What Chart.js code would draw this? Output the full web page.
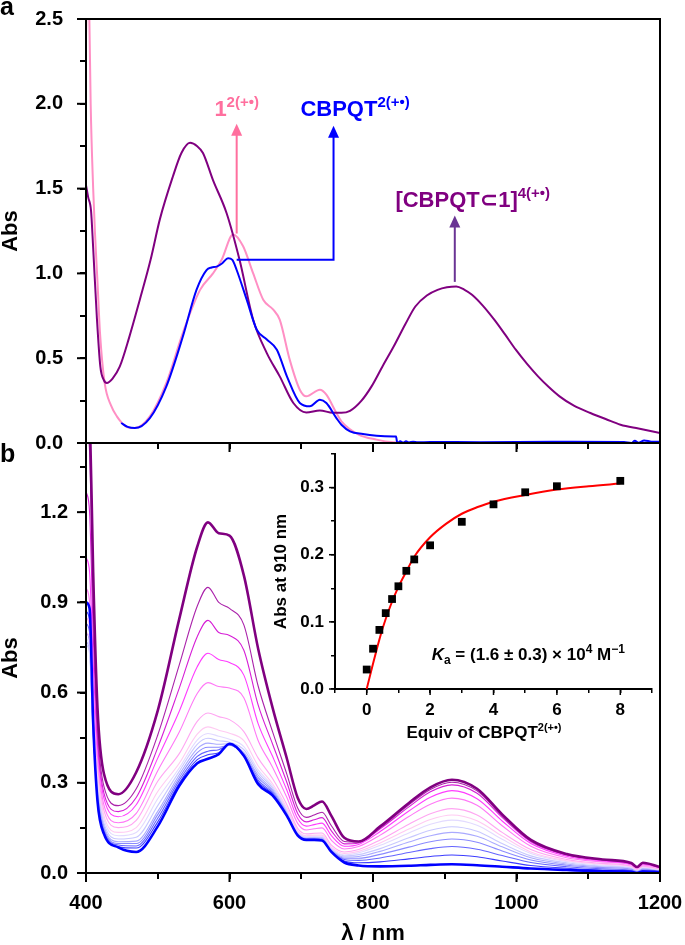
<!DOCTYPE html>
<html>
<head>
<meta charset="utf-8">
<script src="https://cdn.jsdelivr.net/npm/chart.js@4.4.1/dist/chart.umd.min.js"></script>
<style>
  body { margin: 0; background: #fff; }
  #wrap { position: relative; width: 685px; height: 945px; }
  #wrap canvas { position: absolute; left: 0; top: 0; }
</style>
</head>
<body>
<div id="wrap">
  <canvas id="chartB" width="685" height="945"></canvas>
  <canvas id="chartA" width="685" height="945"></canvas>
  <canvas id="inset" width="685" height="945"></canvas>
</div>
<script>
// ---- panel a: single spectra ----
const wlComplex = [400,403,407,410,415,420,425,429,437,447,460,475,490,503,521,533,545,555,563,577,596,614,633,652,670,689,707,726,744,756,768,784,798,813,829,845,859,875,890,903,916,927,938,953,969,984,999,1015,1030,1045,1060,1080,1103,1125,1145,1170,1200];
const absComplex = [1.52,1.45,1.37,1.15,0.75,0.45,0.37,0.354,0.38,0.45,0.62,0.845,1.08,1.32,1.57,1.71,1.77,1.75,1.71,1.55,1.355,1.08,0.727,0.53,0.393,0.236,0.18,0.192,0.178,0.178,0.19,0.25,0.334,0.45,0.57,0.70,0.805,0.87,0.903,0.918,0.923,0.905,0.874,0.81,0.727,0.64,0.55,0.465,0.393,0.33,0.275,0.22,0.177,0.14,0.108,0.085,0.059];

const wlLigand = [400,402,404.5,406.5,410,412.5,416,419.5,426,435,443,455,468,489,512,535,559,577,589,605,619,633,647,661,670,684,698,707,726,735,749,756,780,805,829,860,1000,1200];
const absLigand = [2.4,2.75,2.55,2.0,1.5,1.24,0.95,0.65,0.354,0.22,0.157,0.1,0.088,0.157,0.354,0.65,0.903,1.0,1.08,1.23,1.16,1.0,0.845,0.786,0.727,0.49,0.314,0.275,0.314,0.285,0.177,0.128,0.05,0.02,0.004,0,0,0];

const wlRing = [449,458,468,489,512,535,554,568,575,582,590,598,604,610,624,638,652,666,680,698,712,726,735,749,756,768,786,805,829,832,834,838,842,846,850,856,862,880,950,1050,1150,1160,1165,1170,1178,1188,1200];
const absRing = [0.118,0.095,0.088,0.147,0.334,0.628,0.903,1.02,1.035,1.04,1.06,1.09,1.08,1.02,0.845,0.668,0.61,0.55,0.393,0.236,0.216,0.255,0.236,0.147,0.108,0.069,0.053,0.043,0.039,0.038,0.0,0.01,0.002,0.01,0.003,0.008,0.004,0.006,0.005,0.007,0.006,0.0,0.013,0.001,0.015,0.008,0.007];

// ---- panel b: titration spectra (0 -> 8 equiv) ----
const wlTitration = [400,405,410,416,425,445,470,500,530,555,570,585,600,620,640,660,680,695,707,718,729,742,760,780,810,850,880,910,945,980,1020,1070,1120,1160,1168,1176,1200];
const spec00 = [0.9,0.88,0.5,0.24,0.13,0.085,0.07,0.155,0.29,0.365,0.38,0.395,0.43,0.39,0.295,0.258,0.19,0.125,0.11,0.11,0.108,0.07,0.035,0.025,0.022,0.024,0.027,0.029,0.026,0.021,0.015,0.01,0.006,0.004,0.0,0.005,0.003];
const spec01 = [0.87,0.84,0.49,0.252,0.138,0.087,0.083,0.17,0.299,0.377,0.393,0.4,0.427,0.39,0.303,0.263,0.193,0.127,0.112,0.112,0.11,0.072,0.04,0.034,0.037,0.047,0.055,0.06,0.054,0.04,0.025,0.016,0.01,0.007,0.002,0.008,0.005];
const spec02 = [0.83,0.8,0.48,0.262,0.144,0.093,0.09,0.182,0.308,0.388,0.405,0.41,0.425,0.392,0.309,0.267,0.196,0.129,0.113,0.113,0.112,0.074,0.045,0.042,0.05,0.068,0.081,0.088,0.079,0.058,0.035,0.021,0.014,0.01,0.004,0.01,0.006];
const spec03 = [0.8,0.77,0.47,0.271,0.15,0.098,0.098,0.194,0.317,0.4,0.418,0.418,0.425,0.395,0.317,0.272,0.199,0.131,0.115,0.115,0.114,0.076,0.049,0.049,0.062,0.086,0.104,0.113,0.102,0.073,0.043,0.026,0.018,0.013,0.006,0.013,0.008];
const spec04 = [0.77,0.74,0.46,0.28,0.156,0.104,0.106,0.205,0.327,0.413,0.432,0.428,0.43,0.4,0.325,0.277,0.203,0.133,0.117,0.118,0.117,0.078,0.053,0.055,0.072,0.103,0.124,0.135,0.122,0.087,0.051,0.03,0.021,0.015,0.008,0.015,0.009];
const spec05 = [0.76,0.73,0.46,0.296,0.166,0.113,0.119,0.224,0.338,0.428,0.448,0.44,0.435,0.41,0.334,0.283,0.207,0.136,0.119,0.12,0.119,0.08,0.057,0.061,0.081,0.117,0.142,0.154,0.139,0.098,0.057,0.034,0.023,0.017,0.009,0.017,0.01];
const spec06 = [0.78,0.75,0.48,0.314,0.178,0.124,0.135,0.247,0.349,0.442,0.464,0.455,0.445,0.42,0.343,0.289,0.21,0.138,0.121,0.122,0.122,0.083,0.06,0.067,0.092,0.133,0.162,0.176,0.159,0.112,0.065,0.038,0.026,0.019,0.01,0.019,0.011];
const spec07 = [0.8,0.78,0.5,0.333,0.19,0.135,0.151,0.271,0.365,0.462,0.486,0.475,0.465,0.44,0.356,0.297,0.216,0.142,0.124,0.126,0.126,0.086,0.065,0.072,0.1,0.146,0.178,0.193,0.174,0.123,0.07,0.041,0.029,0.021,0.012,0.021,0.012];
const spec08 = [0.85,0.82,0.55,0.361,0.208,0.151,0.175,0.305,0.397,0.504,0.532,0.52,0.51,0.47,0.382,0.314,0.227,0.149,0.13,0.132,0.133,0.093,0.07,0.078,0.11,0.162,0.197,0.214,0.193,0.135,0.078,0.045,0.032,0.023,0.013,0.023,0.014];
const spec09 = [0.95,0.9,0.62,0.389,0.226,0.167,0.198,0.34,0.469,0.597,0.633,0.62,0.615,0.583,0.44,0.352,0.251,0.165,0.143,0.147,0.15,0.109,0.08,0.088,0.126,0.188,0.229,0.249,0.225,0.157,0.089,0.051,0.037,0.027,0.016,0.027,0.016];
const spec10 = [1.05,1.0,0.7,0.423,0.248,0.187,0.227,0.382,0.538,0.686,0.731,0.71,0.7,0.658,0.496,0.388,0.275,0.181,0.156,0.161,0.166,0.124,0.089,0.095,0.138,0.206,0.252,0.274,0.247,0.173,0.098,0.056,0.04,0.029,0.018,0.03,0.018];
const spec11 = [1.27,1.2,0.8,0.451,0.266,0.204,0.251,0.417,0.615,0.786,0.84,0.8,0.79,0.741,0.558,0.429,0.301,0.198,0.17,0.177,0.184,0.14,0.097,0.1,0.147,0.22,0.27,0.293,0.265,0.185,0.104,0.06,0.043,0.031,0.019,0.032,0.019];
const spec12 = [1.5,1.4,0.9,0.485,0.288,0.224,0.28,0.459,0.692,0.887,0.95,0.9,0.88,0.825,0.621,0.47,0.328,0.216,0.185,0.193,0.202,0.157,0.105,0.103,0.151,0.227,0.278,0.302,0.273,0.19,0.107,0.062,0.044,0.032,0.019,0.033,0.02];
const spec13 = [1.7,1.55,1.0,0.55,0.33,0.262,0.335,0.54,0.845,1.085,1.166,1.13,1.122,0.99,0.745,0.55,0.38,0.25,0.213,0.225,0.238,0.19,0.117,0.105,0.155,0.233,0.285,0.31,0.28,0.195,0.11,0.063,0.045,0.033,0.02,0.034,0.02];
const titrationSpectra = [spec00,spec01,spec02,spec03,spec04,spec05,spec06,spec07,spec08,spec09,spec10,spec11,spec12,spec13];
const titrationColors = ['#0000ff','#3c3cff','#6464ff','#8a8aff','#aaaaff','#c8c8ff','#e2daff','#ffcaf2','#ffa6f2','#ff78f6','#ff3cff','#d61ed6','#aa22aa','#800080'];

// ---- inset: absorbance at 910 nm ----
const equiv = [0,0.2,0.4,0.6,0.8,1.0,1.25,1.5,2,3,4,5,6,8];
const abs910 = [0.029,0.06,0.088,0.113,0.134,0.153,0.176,0.193,0.214,0.249,0.275,0.293,0.302,0.31];
const fitEquiv = [0,0.25,0.5,0.75,1,1.25,1.5,2,2.5,3,3.5,4,5,6,7,8];
const fitAbs = [0,0.047,0.09,0.124,0.152,0.175,0.197,0.226,0.246,0.261,0.271,0.279,0.289,0.297,0.302,0.306];

// ---- ticks ----
const xMajor = [400,600,800,1000,1200];
const xMinor = [500,700,900,1100];
const aYMajor = [0,0.5,1,1.5,2,2.5];
const aYMinor = [0.25,0.75,1.25,1.75,2.25];
const bYMajor = [0,0.3,0.6,0.9,1.2];
const bYMinor = [0.15,0.45,0.75,1.05,1.35];
const inXMajor = [0,2,4,6,8];
const inXMinor = [-1,1,3,5,7,9];
const inYMajor = [0,0.1,0.2,0.3];
const inYMinor = [0.05,0.15,0.25,0.35];

const FONT = '"Liberation Sans", Arial, Helvetica, "DejaVu Sans", sans-serif';
Chart.defaults.font.family = FONT;
Chart.defaults.color = '#000';

const pts = (xs, ys) => xs.map((x, i) => ({x: x, y: ys[i]}));
// all tick positions (major + minor); only majors get a label
const setTicks = (major, minor) => scale => {
  scale.ticks = major.concat(minor).sort((a, b) => a - b).map(v => ({value: v}));
};
const labelIf = (major, fmt) => v => major.some(m => Math.abs(m - v) < 1e-9) ? fmt(v) : '';
const tickGrid = (len, w) => ({display: true, drawOnChartArea: false, drawTicks: true, tickLength: len,
                               color: '#000', tickColor: '#000', lineWidth: w, tickWidth: w});
// fixed box size, no extra room for edge labels
const fixSize = (w, h) => s => {
  if (w !== null) s.width = w;
  if (h !== null) s.height = h;
  s.paddingLeft = 0; s.paddingRight = 0; s.paddingTop = 0; s.paddingBottom = 0;
};

// draws text runs with super/subscripts
function richText(ctx, parts, x, y, align, color) {
  const fnt = p => (p[3] ? 'italic ' : '') + 'bold ' + p[1] + 'px ' + FONT;
  let w = 0;
  parts.forEach(p => { ctx.font = fnt(p); w += ctx.measureText(p[0]).width; });
  let cx = align === 'center' ? x - w / 2 : x;
  ctx.fillStyle = color;
  ctx.textAlign = 'left';
  ctx.textBaseline = 'alphabetic';
  parts.forEach(p => {
    ctx.font = fnt(p);
    ctx.fillText(p[0], cx, y - (p[2] || 0));
    cx += ctx.measureText(p[0]).width;
  });
}

function arrowHead(ctx, x, y, color) {
  ctx.fillStyle = color;
  ctx.beginPath();
  ctx.moveTo(x, y);
  ctx.lineTo(x - 5.5, y + 12);
  ctx.lineTo(x + 5.5, y + 12);
  ctx.closePath();
  ctx.fill();
}

// box round the plot area, with major ticks made a bit longer
function makeFrame(cfg) {
  return {
    id: 'frameBox',
    afterDraw(chart) {
      const a = chart.chartArea, ctx = chart.ctx;
      ctx.save();
      ctx.strokeStyle = '#000';
      ctx.lineWidth = 2;
      if (cfg.box) ctx.strokeRect(a.left, a.top, a.right - a.left, a.bottom - a.top);
      ctx.lineWidth = cfg.width;
      cfg.xMajor.forEach(v => {
        const p = chart.scales.x.getPixelForValue(v);
        ctx.beginPath(); ctx.moveTo(p, a.bottom); ctx.lineTo(p, a.bottom + cfg.len); ctx.stroke();
      });
      cfg.yMajor.forEach(v => {
        const p = chart.scales.y.getPixelForValue(v);
        ctx.beginPath(); ctx.moveTo(a.left, p); ctx.lineTo(a.left - cfg.len, p); ctx.stroke();
      });
      ctx.restore();
    }
  };
}

// arrows and species labels of panel a
const annotateA = {
  id: 'annotateA',
  afterDatasetsDraw(chart) {
    const ctx = chart.ctx, x = chart.scales.x, y = chart.scales.y;
    const px = v => x.getPixelForValue(v), py = v => y.getPixelForValue(v);
    ctx.save();
    ctx.lineWidth = 2;
    // 1^2(+.)
    ctx.strokeStyle = '#ff6f9e';
    ctx.beginPath(); ctx.moveTo(px(610), py(1.235)); ctx.lineTo(px(610), py(1.883) + 11); ctx.stroke();
    arrowHead(ctx, px(610), py(1.883), '#ff6f9e');
    richText(ctx, [['1', 22, 0], ['2(+•)', 15, 9]], px(610), py(1.93), 'center', '#ff6f9e');
    // CBPQT^2(+.)
    ctx.strokeStyle = '#0000ff';
    ctx.beginPath(); ctx.moveTo(px(610), py(1.08)); ctx.lineTo(px(745), py(1.08)); ctx.lineTo(px(745), py(1.871) + 11); ctx.stroke();
    arrowHead(ctx, px(745), py(1.871), '#0000ff');
    richText(ctx, [['CBPQT', 22, 0], ['2(+•)', 15, 9]], px(775), py(1.93), 'center', '#0000ff');
    // [CBPQT c 1]^4(+.)
    ctx.strokeStyle = '#6a3494';
    ctx.beginPath(); ctx.moveTo(px(914), py(0.95)); ctx.lineTo(px(914), py(1.341) + 11); ctx.stroke();
    arrowHead(ctx, px(914), py(1.341), '#6a3494');
    richText(ctx, [['[CBPQT⊂1]', 22, 0], ['4(+•)', 15, 9]], px(939), py(1.39), 'center', '#800080');
    // panel letters
    ctx.fillStyle = '#000';
    ctx.font = 'bold 25px ' + FONT;
    ctx.textAlign = 'left';
    ctx.textBaseline = 'alphabetic';
    ctx.fillText('a', 0, 15);
    ctx.fillText('b', 0, 462);
    ctx.restore();
  }
};

const annotateInset = {
  id: 'annotateInset',
  afterDraw(chart) {
    const ctx = chart.ctx, x = chart.scales.x, y = chart.scales.y, a = chart.chartArea;
    ctx.save();
    richText(ctx, [['K', 17, 0, true], ['a', 12, -4], [' = (1.6 ± 0.3) × 10', 17, 0], ['4', 12, 7], [' M', 17, 0], ['−1', 12, 7]],
      x.getPixelForValue(2.05), y.getPixelForValue(0.043), 'left', '#000');
    richText(ctx, [['Equiv of CBPQT', 17, 0], ['2(+•)', 11, 7]], x.getPixelForValue(3.7), a.bottom + 49, 'center', '#000');
    ctx.restore();
  }
};

const tickFont = {size: 20, weight: 'bold'};
const titleFont = {size: 22, weight: 'bold', lineHeight: 1};
const fmt1 = v => v.toFixed(1);

// ---------- panel a ----------
new Chart(document.getElementById('chartA'), {
  type: 'line',
  data: {
    datasets: [
      {data: pts(wlRing, absRing), borderColor: '#0000ff', borderWidth: 2},
      {data: pts(wlComplex, absComplex), borderColor: '#800080', borderWidth: 2},
      {data: pts(wlLigand, absLigand), borderColor: '#ff8fc4', borderWidth: 2}
    ]
  },
  options: {
    responsive: false, animation: false, devicePixelRatio: 1,
    layout: {padding: {left: 0, top: 19, right: 25, bottom: 502}},
    elements: {point: {radius: 0}, line: {cubicInterpolationMode: 'monotone', fill: false}},
    plugins: {legend: {display: false}, tooltip: {enabled: false}},
    scales: {
      x: {type: 'linear', min: 400, max: 1200, afterBuildTicks: setTicks(xMajor, xMinor),
          ticks: {display: false}, grid: tickGrid(6, 2), border: {display: false},
          afterFit: fixSize(null, 0)},
      y: {type: 'linear', min: 0, max: 2.5, afterBuildTicks: setTicks(aYMajor, aYMinor),
          ticks: {font: tickFont, color: '#000', padding: 17, callback: labelIf(aYMajor, fmt1)},
          grid: tickGrid(6, 2), border: {display: false},
          title: {display: true, text: 'Abs', font: titleFont, color: '#000', padding: 0},
          afterFit: fixSize(86, null)}
    }
  },
  plugins: [annotateA, makeFrame({box: true, width: 2, len: 9, xMajor: xMajor, yMajor: aYMajor})]
});

// ---------- panel b ----------
const order = [13, 0, 12, 11, 10, 9, 8, 7, 6, 5, 4, 3, 2, 1];
new Chart(document.getElementById('chartB'), {
  type: 'line',
  data: {
    datasets: order.map(k => ({
      data: pts(wlTitration, titrationSpectra[k]),
      borderColor: titrationColors[k],
      borderWidth: (k === 0 || k === 13) ? 2.6 : 1.1
    }))
  },
  options: {
    responsive: false, animation: false, devicePixelRatio: 1,
    layout: {padding: {left: 0, top: 443, right: 25, bottom: 0}},
    elements: {point: {radius: 0}, line: {cubicInterpolationMode: 'monotone', fill: false}},
    plugins: {legend: {display: false}, tooltip: {enabled: false}},
    scales: {
      x: {type: 'linear', min: 400, max: 1200, afterBuildTicks: setTicks(xMajor, xMinor),
          ticks: {font: tickFont, color: '#000', padding: 12, autoSkip: false, maxRotation: 0, callback: labelIf(xMajor, String)},
          grid: tickGrid(6, 2), border: {display: false},
          title: {display: true, text: 'λ / nm', font: titleFont, color: '#000', padding: 0},
          afterFit: fixSize(null, 72)},
      y: {type: 'linear', min: 0, max: 1.43, afterBuildTicks: setTicks(bYMajor, bYMinor),
          ticks: {font: tickFont, color: '#000', padding: 12, callback: labelIf(bYMajor, fmt1)},
          grid: tickGrid(6, 2), border: {display: false},
          title: {display: true, text: 'Abs', font: titleFont, color: '#000', padding: 0},
          afterFit: fixSize(86, null)}
    }
  },
  plugins: [makeFrame({box: true, width: 2, len: 9, xMajor: xMajor, yMajor: bYMajor})]
});

// ---------- inset ----------
const inFont = {size: 17, weight: 'bold'};
new Chart(document.getElementById('inset'), {
  type: 'line',
  data: {
    datasets: [
      {data: pts(equiv, abs910), showLine: false, pointStyle: 'rect', pointRadius: 5.5,
       pointBackgroundColor: '#000', pointBorderColor: '#000', pointBorderWidth: 0},
      {data: pts(fitEquiv, fitAbs), borderColor: '#ff0000', borderWidth: 2, pointRadius: 0,
       cubicInterpolationMode: 'monotone'}
    ]
  },
  options: {
    responsive: false, animation: false, devicePixelRatio: 1,
    layout: {padding: {left: 273, top: 454, right: 33, bottom: 196}},
    plugins: {legend: {display: false}, tooltip: {enabled: false}},
    scales: {
      x: {type: 'linear', min: -1, max: 9, afterBuildTicks: setTicks(inXMajor, inXMinor),
          ticks: {font: inFont, color: '#000', padding: 7, autoSkip: false, maxRotation: 0, callback: labelIf(inXMajor, String)},
          grid: tickGrid(4, 1.5), border: {display: true, color: '#000', width: 2},
          afterFit: fixSize(null, 60)},
      y: {type: 'linear', min: 0, max: 0.35, afterBuildTicks: setTicks(inYMajor, inYMinor),
          ticks: {font: inFont, color: '#000', padding: 7, callback: labelIf(inYMajor, fmt1)},
          grid: tickGrid(4, 1.5), border: {display: true, color: '#000', width: 2},
          title: {display: true, text: 'Abs at 910 nm', font: {size: 17, weight: 'bold', lineHeight: 1}, color: '#000', padding: 0},
          afterFit: fixSize(62, null)}
    }
  },
  plugins: [annotateInset, makeFrame({box: false, width: 1.5, len: 6, xMajor: inXMajor, yMajor: inYMajor})]
});
</script>
</body>
</html>
